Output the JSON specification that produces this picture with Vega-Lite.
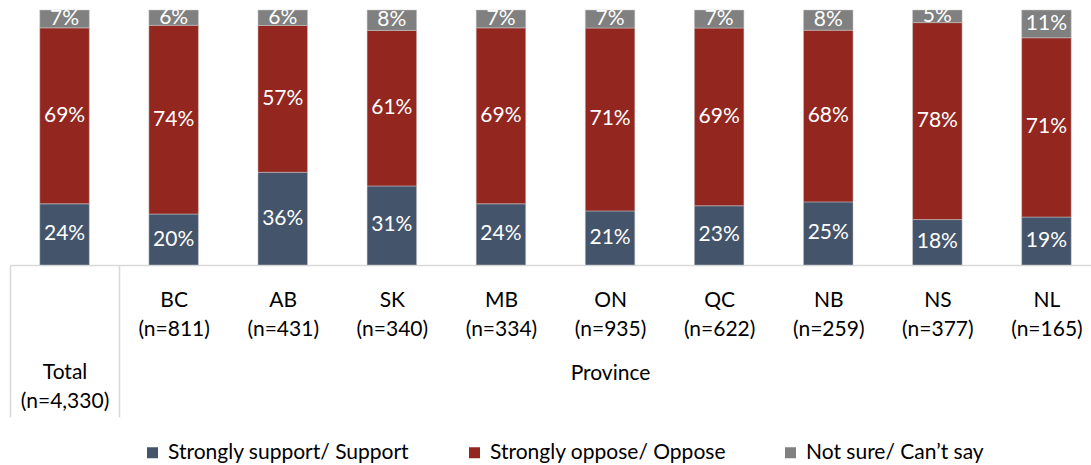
{
  "$schema": "https://vega.github.io/schema/vega-lite/v6.json",
  "width": 1081,
  "height": 255,
  "padding": {"left": 10, "top": 10, "right": 0, "bottom": 200},
  "autosize": {"type": "none"},
  "config": {"view": {"stroke": null}, "font": "Lato"},
  "data": {
    "values": [
      {"cat": "Total (n=4,330)", "resp": "Strongly support/ Support", "v": 0.24},
      {"cat": "Total (n=4,330)", "resp": "Strongly oppose/ Oppose", "v": 0.69},
      {"cat": "Total (n=4,330)", "resp": "Not sure/ Can’t say", "v": 0.07},
      {"cat": "BC (n=811)", "resp": "Strongly support/ Support", "v": 0.20},
      {"cat": "BC (n=811)", "resp": "Strongly oppose/ Oppose", "v": 0.74},
      {"cat": "BC (n=811)", "resp": "Not sure/ Can’t say", "v": 0.06},
      {"cat": "AB (n=431)", "resp": "Strongly support/ Support", "v": 0.36},
      {"cat": "AB (n=431)", "resp": "Strongly oppose/ Oppose", "v": 0.57},
      {"cat": "AB (n=431)", "resp": "Not sure/ Can’t say", "v": 0.06},
      {"cat": "SK (n=340)", "resp": "Strongly support/ Support", "v": 0.31},
      {"cat": "SK (n=340)", "resp": "Strongly oppose/ Oppose", "v": 0.61},
      {"cat": "SK (n=340)", "resp": "Not sure/ Can’t say", "v": 0.08},
      {"cat": "MB (n=334)", "resp": "Strongly support/ Support", "v": 0.24},
      {"cat": "MB (n=334)", "resp": "Strongly oppose/ Oppose", "v": 0.69},
      {"cat": "MB (n=334)", "resp": "Not sure/ Can’t say", "v": 0.07},
      {"cat": "ON (n=935)", "resp": "Strongly support/ Support", "v": 0.21},
      {"cat": "ON (n=935)", "resp": "Strongly oppose/ Oppose", "v": 0.71},
      {"cat": "ON (n=935)", "resp": "Not sure/ Can’t say", "v": 0.07},
      {"cat": "QC (n=622)", "resp": "Strongly support/ Support", "v": 0.23},
      {"cat": "QC (n=622)", "resp": "Strongly oppose/ Oppose", "v": 0.69},
      {"cat": "QC (n=622)", "resp": "Not sure/ Can’t say", "v": 0.07},
      {"cat": "NB (n=259)", "resp": "Strongly support/ Support", "v": 0.25},
      {"cat": "NB (n=259)", "resp": "Strongly oppose/ Oppose", "v": 0.68},
      {"cat": "NB (n=259)", "resp": "Not sure/ Can’t say", "v": 0.08},
      {"cat": "NS (n=377)", "resp": "Strongly support/ Support", "v": 0.18},
      {"cat": "NS (n=377)", "resp": "Strongly oppose/ Oppose", "v": 0.78},
      {"cat": "NS (n=377)", "resp": "Not sure/ Can’t say", "v": 0.05},
      {"cat": "NL (n=165)", "resp": "Strongly support/ Support", "v": 0.19},
      {"cat": "NL (n=165)", "resp": "Strongly oppose/ Oppose", "v": 0.71},
      {"cat": "NL (n=165)", "resp": "Not sure/ Can’t say", "v": 0.11}
    ]
  },
  "transform": [
    {"stack": "v", "groupby": ["cat"], "sort": [{"field": "resp", "order": "descending"}], "offset": "normalize", "as": ["y0", "y1"]},
    {"calculate": "(datum.y0 + datum.y1) / 2", "as": "ym"}
  ],
  "encoding": {
    "x": {
      "field": "cat",
      "type": "nominal",
      "sort": null,
      "scale": {"range": [0, 1091], "paddingInner": 0.546, "paddingOuter": 0.273},
      "axis": {
        "labelExpr": "split(datum.value, ' ')",
        "labelAngle": 0,
        "labelBaseline": "top",
        "labelLineHeight": 29,
        "labelFontSize": 21,
        "labelColor": "black",
        "labelFlush": false,
        "labelOverlap": false,
        "labelBound": false,
        "labelPadding": {"condition": {"test": "datum.value === 'Total (n=4,330)'", "value": -56}, "value": -128},
        "tickOffset": -54.55,
        "labelOffset": 54.55,
        "domainColor": "#D9D9D9",
        "domainWidth": 1.5,
        "tickSize": 152,
        "tickWidth": 1.5,
        "tickColor": {"condition": {"test": "datum.value === 'Total (n=4,330)' || datum.value === 'BC (n=811)'", "value": "#D9D9D9"}, "value": "transparent"},
        "title": "Province",
        "titleX": 600,
        "titleY": 108,
        "titleBaseline": "middle",
        "titleFontSize": 21,
        "titleFontWeight": "normal",
        "titleColor": "black"
      }
    }
  },
  "layer": [
    {
      "mark": {"type": "bar", "stroke": "#C8C8C8", "strokeWidth": 0.5},
      "encoding": {
        "y": {"field": "y0", "type": "quantitative", "scale": {"domain": [0, 1]}, "axis": null},
        "y2": {"field": "y1"},
        "color": {
          "field": "resp",
          "type": "nominal",
          "scale": {
            "domain": ["Strongly support/ Support", "Strongly oppose/ Oppose", "Not sure/ Can’t say"],
            "range": ["#44546A", "#93261F", "#808080"]
          },
          "legend": {
            "orient": "none",
            "legendX": 132,
            "legendY": 432,
            "direction": "horizontal",
            "title": null,
            "symbolType": "square",
            "symbolSize": 121,
            "symbolStrokeWidth": 0,
            "labelFontSize": 21,
            "labelLimit": 500,
            "labelColor": "black",
            "columnPadding": 54,
            "labelOffset": 5,
            "padding": 0
          }
        }
      }
    },
    {
      "mark": {"type": "text", "color": "white", "fontSize": 21},
      "encoding": {
        "y": {"field": "ym", "type": "quantitative"},
        "text": {"field": "v", "type": "quantitative", "format": ".0%"}
      }
    }
  ]
}
